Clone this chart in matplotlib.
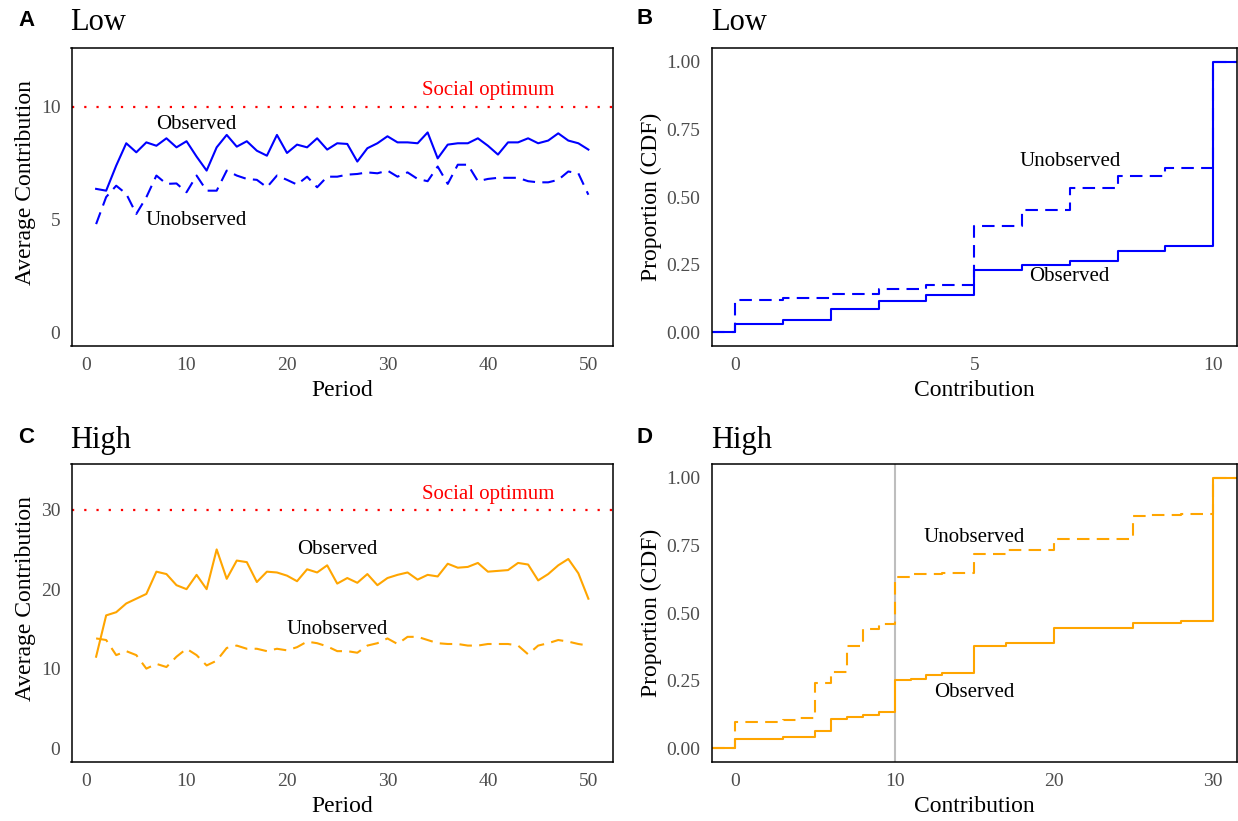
import matplotlib
matplotlib.use("Agg")
import matplotlib.pyplot as plt
import numpy as np

# ---------------- data ----------------
periods = list(range(1, 51))

low_observed = [6.36, 6.28, 7.39, 8.38, 7.98, 8.42, 8.27, 8.60, 8.20, 8.47,
                7.79, 7.17, 8.20, 8.75, 8.23, 8.47, 8.05, 7.83, 8.75, 7.95,
                8.32, 8.20, 8.60, 8.10, 8.38, 8.35, 7.57, 8.16, 8.38, 8.69,
                8.42, 8.42, 8.38, 8.86, 7.71, 8.32, 8.38, 8.38, 8.60, 8.27,
                7.88, 8.42, 8.42, 8.60, 8.38, 8.50, 8.82, 8.50, 8.38, 8.10]
low_unobserved = [4.80, 6.00, 6.50, 6.14, 5.25, 5.99, 6.95, 6.58, 6.60, 6.21,
                  6.95, 6.28, 6.28, 7.17, 6.95, 6.80, 6.76, 6.43, 6.95, 6.76,
                  6.55, 6.90, 6.43, 6.90, 6.90, 6.99, 7.02, 7.09, 7.05, 7.17,
                  6.90, 7.09, 6.80, 6.70, 7.35, 6.58, 7.43, 7.43, 6.70, 6.80,
                  6.85, 6.85, 6.85, 6.70, 6.65, 6.65, 6.76, 7.13, 7.05, 6.10]

high_observed = [11.5, 16.7, 17.1, 18.2, 18.8, 19.4, 22.2, 21.9, 20.5, 20.0,
                 21.8, 20.0, 25.0, 21.3, 23.6, 23.4, 20.9, 22.2, 22.1, 21.7,
                 21.0, 22.5, 22.1, 23.0, 20.7, 21.4, 20.8, 21.9, 20.5, 21.4,
                 21.8, 22.1, 21.2, 21.8, 21.6, 23.2, 22.7, 22.8, 23.3, 22.2,
                 22.3, 22.4, 23.3, 23.1, 21.1, 21.9, 23.0, 23.8, 22.0, 18.8]
high_unobserved = [13.8, 13.6, 11.7, 12.2, 11.7, 10.0, 10.6, 10.2, 11.5, 12.5,
                   11.7, 10.4, 11.0, 12.6, 12.9, 12.5, 12.5, 12.2, 12.5, 12.3,
                   12.7, 13.4, 13.2, 12.8, 12.2, 12.2, 12.0, 12.9, 13.2, 13.8,
                   13.1, 14.0, 14.0, 13.6, 13.2, 13.1, 13.1, 12.9, 12.9, 13.1,
                   13.1, 13.1, 12.9, 11.8, 12.9, 13.2, 13.6, 13.4, 13.1, 12.9]

low_optimum = 10
high_optimum = 30

contrib_low = list(range(0, 11))
cdf_low_observed = [0.032, 0.047, 0.088, 0.115, 0.137, 0.232, 0.248, 0.263,
                    0.300, 0.318, 1.000]
cdf_low_unobserved = [0.121, 0.128, 0.143, 0.162, 0.174, 0.393, 0.452, 0.532,
                      0.579, 0.606, 1.000]

contrib_high = list(range(0, 31))
cdf_high_observed = [0.036, 0.036, 0.036, 0.044, 0.044, 0.064, 0.110, 0.116,
                     0.122, 0.134, 0.252, 0.258, 0.270, 0.277, 0.277, 0.379,
                     0.379, 0.390, 0.390, 0.390, 0.443, 0.443, 0.443, 0.443,
                     0.443, 0.462, 0.462, 0.462, 0.470, 0.470, 1.000]
cdf_high_unobserved = [0.098, 0.098, 0.098, 0.105, 0.112, 0.243, 0.283, 0.379,
                       0.440, 0.458, 0.634, 0.644, 0.644, 0.649, 0.649, 0.718,
                       0.718, 0.733, 0.733, 0.733, 0.773, 0.773, 0.773, 0.773,
                       0.773, 0.857, 0.860, 0.863, 0.866, 0.866, 1.000]

# ---------------- style ----------------
W, H = 1238, 821
SERIF = ["Liberation Serif", "DejaVu Serif"]
SANS = ["Liberation Sans", "DejaVu Sans"]
BLUE = "#0000FF"
ORANGE = "#FFA500"
TICKCOL = "#4D4D4D"
LW = 1.5
DASH = (6, 3.5)

plt.rcParams["font.family"] = SERIF

fig = plt.figure(figsize=(W / 100, H / 100), dpi=100)


def px_axes(left, top, right, bottom):
    return fig.add_axes([left / W, 1 - bottom / H, (right - left) / W, (bottom - top) / H])


def style(ax):
    for s in ax.spines.values():
        s.set_linewidth(1.1)
        s.set_color("black")
    ax.tick_params(length=0, pad=8, labelsize=14, labelcolor=TICKCOL)
    for lab in ax.get_xticklabels() + ax.get_yticklabels():
        lab.set_family(SERIF)


axA = px_axes(71.5, 48, 613, 346)
axB = px_axes(711.5, 48, 1237, 346)
axC = px_axes(71.5, 464, 613, 762)
axD = px_axes(711.5, 464, 1237, 762)

# Panel A
axA.plot(periods, low_observed, color=BLUE, lw=LW)
axA.plot(periods, low_unobserved, color=BLUE, lw=LW, dashes=DASH)
axA.axhline(low_optimum, color="red", lw=1.6, linestyle=(0, (1, 4.5)))
axA.set_xlim(-1.45, 52.45)
axA.set_ylim(-0.6, 12.6)
axA.set_xticks([0, 10, 20, 30, 40, 50])
axA.set_yticks([0, 5, 10])
axA.text(11, 9.2, "Observed", ha="center", va="center", fontsize=15)
axA.text(11, 4.95, "Unobserved", ha="center", va="center", fontsize=15)
axA.text(40, 10.7, "Social optimum", ha="center", va="center", fontsize=15, color="red")

# Panel C
axC.plot(periods, high_observed, color=ORANGE, lw=LW)
axC.plot(periods, high_unobserved, color=ORANGE, lw=LW, dashes=DASH)
axC.axhline(high_optimum, color="red", lw=1.6, linestyle=(0, (1, 4.5)))
axC.set_xlim(-1.45, 52.45)
axC.set_ylim(-1.75, 35.75)
axC.set_xticks([0, 10, 20, 30, 40, 50])
axC.set_yticks([0, 10, 20, 30])
axC.text(25, 25.0, "Observed", ha="center", va="center", fontsize=15)
axC.text(25, 14.9, "Unobserved", ha="center", va="center", fontsize=15)
axC.text(40, 31.9, "Social optimum", ha="center", va="center", fontsize=15, color="red")


def ecdf_steps(ax, xs, ys, xlim, **kw):
    x = [xlim[0]] + list(xs) + [xlim[1]]
    y = [0.0] + list(ys) + [ys[-1]]
    ax.step(x, y, where="post", **kw)


# Panel B
xlimB = (-0.5, 10.5)
ecdf_steps(axB, contrib_low, cdf_low_observed, xlimB, color=BLUE, lw=LW)
ecdf_steps(axB, contrib_low, cdf_low_unobserved, xlimB, color=BLUE, lw=LW, dashes=DASH)
axB.set_xlim(*xlimB)
axB.set_ylim(-0.05, 1.05)
axB.set_xticks([0, 5, 10])
axB.set_yticks([0, 0.25, 0.5, 0.75, 1.0])
axB.set_yticklabels(["0.00", "0.25", "0.50", "0.75", "1.00"])
axB.text(7, 0.63, "Unobserved", ha="center", va="center", fontsize=15)
axB.text(7, 0.207, "Observed", ha="center", va="center", fontsize=15)

# Panel D
xlimD = (-1.5, 31.5)
axD.axvline(10, color="#BEBEBE", lw=1.5, zorder=1)
ecdf_steps(axD, contrib_high, cdf_high_observed, xlimD, color=ORANGE, lw=LW)
ecdf_steps(axD, contrib_high, cdf_high_unobserved, xlimD, color=ORANGE, lw=LW, dashes=DASH)
axD.set_xlim(*xlimD)
axD.set_ylim(-0.05, 1.05)
axD.set_xticks([0, 10, 20, 30])
axD.set_yticks([0, 0.25, 0.5, 0.75, 1.0])
axD.set_yticklabels(["0.00", "0.25", "0.50", "0.75", "1.00"])
axD.text(15, 0.78, "Unobserved", ha="center", va="center", fontsize=15)
axD.text(15, 0.207, "Observed", ha="center", va="center", fontsize=15)

for ax in (axA, axB, axC, axD):
    style(ax)

# axis labels
for ax, xl, yl in ((axA, "Period", "Average Contribution"),
                   (axC, "Period", "Average Contribution"),
                   (axB, "Contribution", "Proportion (CDF)"),
                   (axD, "Contribution", "Proportion (CDF)")):
    ax.set_xlabel(xl, fontsize=17)
    ax.set_ylabel(yl, fontsize=17)
    ax.xaxis.set_label_coords(0.5, -34 / 298)
for ax in (axA, axC):
    ax.yaxis.set_label_coords((36 - 71.5) / 541.5, 0.55)
for ax in (axB, axD):
    ax.yaxis.set_label_coords((662 - 711.5) / 525.5, 0.5)

# panel letters and titles
for letter, x, y in (("A", 18, 21), ("B", 637, 19), ("C", 18, 437), ("D", 637, 437)):
    fig.text(x / W, 1 - y / H, letter, fontsize=16, fontweight="bold",
             family=SANS, ha="left", va="center")
for title, x, y in (("Low", 70, 23), ("Low", 711, 23), ("High", 70, 440), ("High", 711, 440)):
    fig.text(x / W, 1 - y / H, title, fontsize=22, ha="left", va="center")

fig.savefig("out.png", dpi=100)
